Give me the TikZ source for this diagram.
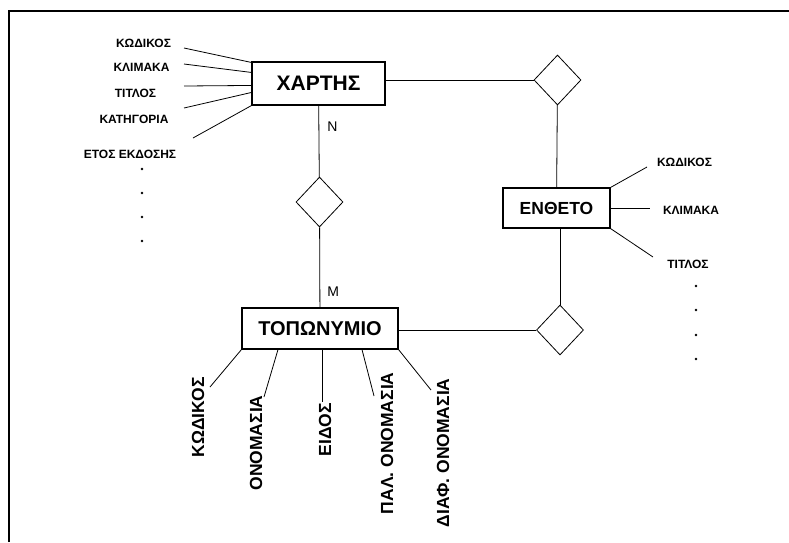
\documentclass[tikz,border=0pt]{standalone}
\usepackage{fontspec}
\setmainfont{Liberation Sans}
\usetikzlibrary{shapes.geometric}

\begin{document}
\begin{tikzpicture}[
  x=1pt,y=1pt,
  line width=0.8pt,
  entity/.style={draw,line width=1.1pt,inner sep=0pt,font=\fontsize{20}{20}\selectfont\bfseries},
  rel/.style={draw,diamond,inner sep=0pt,minimum width=47pt,minimum height=50pt},
  attr/.style={inner sep=0pt,font=\fontsize{12}{12}\selectfont\bfseries},
  vattr/.style={inner sep=0pt,rotate=90,anchor=east,font=\fontsize{17.5}{17.5}\selectfont\bfseries},
  card/.style={inner sep=0pt,font=\fontsize{14}{14}\selectfont},
  dot/.style={circle,fill,inner sep=0pt,minimum size=2.8pt}
]
\useasboundingbox (0,0) rectangle (789,-542);
% frame
\draw[line width=2pt] (8.7,-542) -- (8.7,-11) -- (789,-11);

% entities
\node[entity,minimum width=133pt,minimum height=43pt,font=\fontsize{21}{21}\selectfont\bfseries] (xartis) at (318.5,-83.5) {ΧΑΡΤΗΣ};
\node[entity,minimum width=107pt,minimum height=40pt,font=\fontsize{17.5}{17.5}\selectfont\bfseries] (entheto) at (556.5,-208) {ΕΝΘΕΤΟ\hspace{13pt}};
\node[entity,minimum width=156pt,minimum height=41pt] (toponymio) at (320,-328.5) {ΤΟΠΩΝΥΜΙΟ};

% relationships
\node[rel] (rel1) at (319.5,-202) {};
\node[rel] (rel2) at (557.5,-80) {};
\node[rel] (rel3) at (560,-330) {};

\draw (xartis) -- node[card,pos=0.3,right=8pt] {N} (rel1);
\draw (rel1) -- node[card,pos=0.8,right=7pt] {M} (toponymio);
\draw (rel2.west -| xartis.east) -- (rel2.west);
\draw (rel2) -- (entheto);
\draw (rel3.north |- entheto.south) -- (rel3.north);
\draw (toponymio.east |- rel3.west) -- (rel3.west);

% attributes of XARTHS
\node[attr] (kod-x) at (143.5,-43) {ΚΩΔΙΚΟΣ};
\node[attr] (klim-x) at (141.5,-67) {ΚΛΙΜΑΚΑ};
\node[attr] (tit-x) at (135.5,-93) {ΤΙΤΛΟΣ};
\node[attr] (kat-x) at (134,-119) {ΚΑΤΗΓΟΡΙΑ};
\node[attr] (etos-x) at (130,-154) {ΕΤΟΣ ΕΚΔΟΣΗΣ};
\coordinate (kod-x-e) at (184,-48);
\coordinate (klim-x-e) at (184,-64);
\coordinate (tit-x-e) at (184,-86);
\coordinate (kat-x-e) at (184,-108);
\coordinate (etos-x-e) at (193,-138);
\draw (kod-x-e) -- ([yshift=-1pt]xartis.north west);
\draw (klim-x-e) -- ([yshift=-11pt]xartis.north west);
\draw (tit-x-e) -- ([yshift=-24pt]xartis.north west);
\draw (kat-x-e) -- ([yshift=-31pt]xartis.north west);
\draw (etos-x-e) -- (xartis.south west);
\node[dot] (dx1) at (142,-169) {};
\node[dot] (dx2) at (142,-193) {};
\node[dot] (dx3) at (142,-217) {};
\node[dot] (dx4) at (142,-241) {};

% attributes of ENTHETO
\node[attr] (kod-e) at (684.5,-162) {ΚΩΔΙΚΟΣ};
\node[attr] (klim-e) at (691,-210) {ΚΛΙΜΑΚΑ};
\node[attr] (tit-e) at (688,-264) {ΤΙΤΛΟΣ};
\coordinate (kod-e-w) at (647,-167);
\coordinate (klim-e-w) at (650,-208);
\coordinate (tit-e-w) at (653,-257);
\draw (entheto.north east) -- (kod-e-w);
\draw (entheto.east) -- (klim-e-w);
\draw (entheto.south east) -- (tit-e-w);
\node[dot] (de1) at (696,-286) {};
\node[dot] (de2) at (696,-310) {};
\node[dot] (de3) at (696,-335) {};
\node[dot] (de4) at (696,-359) {};

% attributes of TOPONYMIO
\node[vattr] (kod-t) at (198,-377) {ΚΩΔΙΚΟΣ};
\node[vattr] (onom-t) at (256,-395) {ΟΝΟΜΑΣΙΑ};
\node[vattr] (eid-t) at (325,-403) {ΕΙΔΟΣ};
\node[vattr] (pal-t) at (387,-372) {ΠΑΛ. ΟΝΟΜΑΣΙΑ};
\node[vattr] (diaf-t) at (443,-378) {ΔΙΑΦ. ΟΝΟΜΑΣΙΑ};
\coordinate (kod-t-n) at (210,-387);
\coordinate (onom-t-n) at (264,-397);
\coordinate (eid-t-n) at (322,-402);
\coordinate (pal-t-n) at (374,-396);
\coordinate (diaf-t-n) at (431,-390);
\draw (toponymio.south west) -- (kod-t-n);
\draw ([xshift=-42pt]toponymio.south) -- (onom-t-n);
\draw ([xshift=2pt]toponymio.south) -- (eid-t-n);
\draw ([xshift=42pt]toponymio.south) -- (pal-t-n);
\draw (toponymio.south east) -- (diaf-t-n);
\end{tikzpicture}
\end{document}
